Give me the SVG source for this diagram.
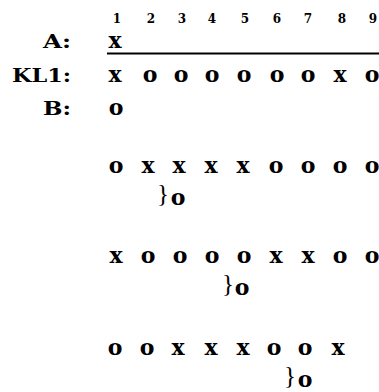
<svg xmlns="http://www.w3.org/2000/svg" width="379" height="392" viewBox="0 0 379 392">
<style>
.num{font-family:"DejaVu Serif",serif;font-weight:bold;font-size:12px;text-anchor:middle;fill:#000}
.lab{font-family:"DejaVu Serif",serif;font-weight:bold;font-size:18px;fill:#000}
.c{font-family:"DejaVu Serif",serif;font-weight:bold;font-size:22px;text-anchor:middle;fill:#000}
.br{font-family:"Liberation Serif",serif;font-size:25px;text-anchor:middle;fill:#000}
</style>
<rect width="379" height="392" fill="#fff"/>
<g id="numbers">
<text class="num" x="117" y="23">1</text>
<text class="num" x="151" y="23">2</text>
<text class="num" x="182" y="23">3</text>
<text class="num" x="212" y="23">4</text>
<text class="num" x="245" y="23">5</text>
<text class="num" x="277" y="23">6</text>
<text class="num" x="308" y="23">7</text>
<text class="num" x="342" y="23">8</text>
<text class="num" x="373" y="23">9</text>
</g>
<g id="labels">
<text class="lab" x="43" y="48" textLength="28" lengthAdjust="spacingAndGlyphs">A:</text>
<text class="lab" x="12" y="82" textLength="59" lengthAdjust="spacingAndGlyphs">KL1:</text>
<text class="lab" x="43" y="115" textLength="28" lengthAdjust="spacingAndGlyphs">B:</text>
</g>
<g id="rowA">
<text class="c" x="115" y="48">x</text>
<line x1="107" y1="53.5" x2="379" y2="53.5" stroke="#000" stroke-width="2"/>
</g>
<g id="rowKL1">
<text class="c" x="115" y="82">x</text>
<text class="c" x="150" y="82">o</text>
<text class="c" x="181" y="82">o</text>
<text class="c" x="212" y="82">o</text>
<text class="c" x="244" y="82">o</text>
<text class="c" x="277" y="82">o</text>
<text class="c" x="308" y="82">o</text>
<text class="c" x="340" y="82">x</text>
<text class="c" x="372" y="82">o</text>
</g>
<g id="rowB">
<text class="c" x="116" y="115">o</text>
</g>
<g id="row2">
<text class="c" x="116" y="173">o</text>
<text class="c" x="148" y="173">x</text>
<text class="c" x="179" y="173">x</text>
<text class="c" x="211" y="173">x</text>
<text class="c" x="243" y="173">x</text>
<text class="c" x="276" y="173">o</text>
<text class="c" x="308" y="173">o</text>
<text class="c" x="340" y="173">o</text>
<text class="c" x="372" y="173">o</text>
<text class="br" x="163" y="202">}</text>
<text class="c" x="178" y="205">o</text>
</g>
<g id="row3">
<text class="c" x="116" y="263">x</text>
<text class="c" x="148" y="263">o</text>
<text class="c" x="180" y="263">o</text>
<text class="c" x="212" y="263">o</text>
<text class="c" x="244" y="263">o</text>
<text class="c" x="276" y="263">x</text>
<text class="c" x="308" y="263">x</text>
<text class="c" x="340" y="263">o</text>
<text class="c" x="372" y="263">o</text>
<text class="br" x="228" y="292">}</text>
<text class="c" x="242" y="295">o</text>
</g>
<g id="row4">
<text class="c" x="115" y="355">o</text>
<text class="c" x="147" y="355">o</text>
<text class="c" x="178" y="355">x</text>
<text class="c" x="211" y="355">x</text>
<text class="c" x="243" y="355">x</text>
<text class="c" x="274" y="355">o</text>
<text class="c" x="305" y="355">o</text>
<text class="c" x="338" y="355">x</text>
<text class="br" x="290" y="384">}</text>
<text class="c" x="305" y="387">o</text>
</g>
</svg>
